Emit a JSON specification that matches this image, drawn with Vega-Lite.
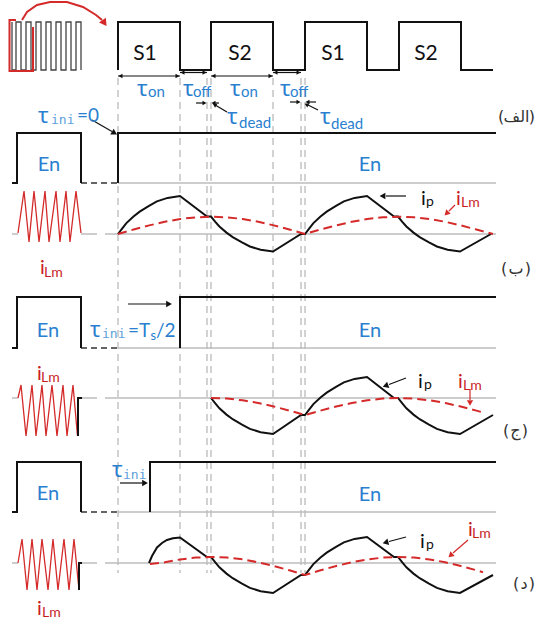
{
"$schema": "https://vega.github.io/schema/vega-lite/v6.json",
"width": 538, "height": 619, "padding": 0, "autosize": {"type": "none"},
"background": "white",
"config": {"view": {"stroke": null}},
"datasets": {
"v": [
{"x":118,"y":78,"y2":573},{"x":180,"y":78,"y2":573},{"x":207,"y":78,"y2":573},{"x":211,"y":78,"y2":573},
{"x":273,"y":78,"y2":573},{"x":301,"y":78,"y2":573},{"x":305,"y":78,"y2":573}
],
"w": [
{"g":"pwm","k":"signal","x":118,"y":70},{"g":"pwm","k":"signal","x":118,"y":22},{"g":"pwm","k":"signal","x":180,"y":22},{"g":"pwm","k":"signal","x":180,"y":70},
{"g":"pwm","k":"signal","x":211,"y":70},{"g":"pwm","k":"signal","x":211,"y":22},{"g":"pwm","k":"signal","x":273,"y":22},{"g":"pwm","k":"signal","x":273,"y":70},
{"g":"pwm","k":"signal","x":305,"y":70},{"g":"pwm","k":"signal","x":305,"y":22},{"g":"pwm","k":"signal","x":367,"y":22},{"g":"pwm","k":"signal","x":367,"y":70},
{"g":"pwm","k":"signal","x":399,"y":70},{"g":"pwm","k":"signal","x":399,"y":22},{"g":"pwm","k":"signal","x":461,"y":22},{"g":"pwm","k":"signal","x":461,"y":70},
{"g":"pwm","k":"signal","x":493,"y":70},

{"g":"ben0","k":"signal","x":12,"y":183},{"g":"ben0","k":"signal","x":17,"y":183},{"g":"ben0","k":"signal","x":17,"y":133},{"g":"ben0","k":"signal","x":81,"y":133},{"g":"ben0","k":"signal","x":81,"y":183},
{"g":"ben1","k":"signal","x":118,"y":183},{"g":"ben1","k":"signal","x":118,"y":133},{"g":"ben1","k":"signal","x":496,"y":133},
{"g":"cen0","k":"signal","x":12,"y":348},{"g":"cen0","k":"signal","x":17,"y":348},{"g":"cen0","k":"signal","x":17,"y":297},{"g":"cen0","k":"signal","x":81,"y":297},{"g":"cen0","k":"signal","x":81,"y":348},
{"g":"cen1","k":"signal","x":180,"y":348},{"g":"cen1","k":"signal","x":180,"y":297},{"g":"cen1","k":"signal","x":496,"y":297},
{"g":"den0","k":"signal","x":12,"y":512},{"g":"den0","k":"signal","x":17,"y":512},{"g":"den0","k":"signal","x":17,"y":462},{"g":"den0","k":"signal","x":81,"y":462},{"g":"den0","k":"signal","x":81,"y":512},
{"g":"den1","k":"signal","x":150,"y":512},{"g":"den1","k":"signal","x":150,"y":462},{"g":"den1","k":"signal","x":496,"y":462},
{"g":"cdrop","k":"signal","x":78,"y":436},{"g":"cdrop","k":"signal","x":78,"y":398},{"g":"cdrop","k":"signal","x":82,"y":398},
{"g":"ddrop","k":"signal","x":79,"y":590},{"g":"ddrop","k":"signal","x":79,"y":563},{"g":"ddrop","k":"signal","x":82,"y":563},

{"g":"bip","k":"signal","x":118,"y":234},{"g":"bip","k":"signal","x":122.3,"y":228.3},{"g":"bip","k":"signal","x":126.4,"y":223.1},{"g":"bip","k":"signal","x":133.5,"y":216.5},{"g":"bip","k":"signal","x":139.7,"y":211.6},{"g":"bip","k":"signal","x":149,"y":205.9},{"g":"bip","k":"signal","x":156.9,"y":201.4},{"g":"bip","k":"signal","x":167.6,"y":197.9},{"g":"bip","k":"signal","x":180,"y":196},
{"g":"bip","k":"signal","x":207,"y":216.5},{"g":"bip","k":"signal","x":211,"y":216.5},
{"g":"bip","k":"signal","x":215.3,"y":221.8},{"g":"bip","k":"signal","x":219.4,"y":226.5},{"g":"bip","k":"signal","x":226.5,"y":232.6},{"g":"bip","k":"signal","x":232.7,"y":237.1},{"g":"bip","k":"signal","x":242,"y":242.4},{"g":"bip","k":"signal","x":249.9,"y":246.5},{"g":"bip","k":"signal","x":260.6,"y":249.8},{"g":"bip","k":"signal","x":273,"y":251.5},
{"g":"bip","k":"signal","x":301,"y":234},{"g":"bip","k":"signal","x":305,"y":234},
{"g":"bip","k":"signal","x":309.3,"y":228.3},{"g":"bip","k":"signal","x":313.4,"y":223.1},{"g":"bip","k":"signal","x":320.5,"y":216.5},{"g":"bip","k":"signal","x":326.7,"y":211.6},{"g":"bip","k":"signal","x":336,"y":205.9},{"g":"bip","k":"signal","x":343.9,"y":201.4},{"g":"bip","k":"signal","x":354.6,"y":197.9},{"g":"bip","k":"signal","x":367,"y":196},
{"g":"bip","k":"signal","x":394,"y":216.5},{"g":"bip","k":"signal","x":398,"y":216.5},
{"g":"bip","k":"signal","x":402.3,"y":221.8},{"g":"bip","k":"signal","x":406.4,"y":226.5},{"g":"bip","k":"signal","x":413.5,"y":232.6},{"g":"bip","k":"signal","x":419.7,"y":237.1},{"g":"bip","k":"signal","x":429,"y":242.4},{"g":"bip","k":"signal","x":436.9,"y":246.5},{"g":"bip","k":"signal","x":447.6,"y":249.8},{"g":"bip","k":"signal","x":460,"y":251.5},
{"g":"bip","k":"signal","x":491,"y":234},

{"g":"cip","k":"signal","x":211,"y":398},{"g":"cip","k":"signal","x":215.3,"y":403.4},{"g":"cip","k":"signal","x":219.4,"y":408.3},{"g":"cip","k":"signal","x":226.5,"y":414.6},{"g":"cip","k":"signal","x":232.7,"y":419.2},{"g":"cip","k":"signal","x":242,"y":424.6},{"g":"cip","k":"signal","x":249.9,"y":428.9},{"g":"cip","k":"signal","x":260.6,"y":432.2},{"g":"cip","k":"signal","x":273,"y":434},
{"g":"cip","k":"signal","x":301,"y":415},{"g":"cip","k":"signal","x":305,"y":415},
{"g":"cip","k":"signal","x":309.3,"y":409.3},{"g":"cip","k":"signal","x":313.4,"y":404.1},{"g":"cip","k":"signal","x":320.5,"y":397.5},{"g":"cip","k":"signal","x":326.7,"y":392.6},{"g":"cip","k":"signal","x":336,"y":386.9},{"g":"cip","k":"signal","x":343.9,"y":382.4},{"g":"cip","k":"signal","x":354.6,"y":378.9},{"g":"cip","k":"signal","x":367,"y":377},
{"g":"cip","k":"signal","x":394,"y":398},{"g":"cip","k":"signal","x":398,"y":398},
{"g":"cip","k":"signal","x":402.3,"y":403.4},{"g":"cip","k":"signal","x":406.4,"y":408.3},{"g":"cip","k":"signal","x":413.5,"y":414.6},{"g":"cip","k":"signal","x":419.7,"y":419.2},{"g":"cip","k":"signal","x":429,"y":424.6},{"g":"cip","k":"signal","x":436.9,"y":428.9},{"g":"cip","k":"signal","x":447.6,"y":432.2},{"g":"cip","k":"signal","x":460,"y":434},
{"g":"cip","k":"signal","x":493,"y":415},

{"g":"dip","k":"signal","x":149,"y":563},{"g":"dip","k":"signal","x":152,"y":556},{"g":"dip","k":"signal","x":157,"y":547.5},{"g":"dip","k":"signal","x":162,"y":543},{"g":"dip","k":"signal","x":167,"y":540},{"g":"dip","k":"signal","x":173,"y":538.3},{"g":"dip","k":"signal","x":180,"y":537.5},
{"g":"dip","k":"signal","x":207,"y":557},{"g":"dip","k":"signal","x":211,"y":557},
{"g":"dip","k":"signal","x":215.3,"y":562.4},{"g":"dip","k":"signal","x":219.4,"y":567.3},{"g":"dip","k":"signal","x":226.5,"y":573.6},{"g":"dip","k":"signal","x":232.7,"y":578.2},{"g":"dip","k":"signal","x":242,"y":583.6},{"g":"dip","k":"signal","x":249.9,"y":587.9},{"g":"dip","k":"signal","x":260.6,"y":591.2},{"g":"dip","k":"signal","x":273,"y":593},
{"g":"dip","k":"signal","x":301,"y":575},{"g":"dip","k":"signal","x":305,"y":575},
{"g":"dip","k":"signal","x":309.3,"y":569.3},{"g":"dip","k":"signal","x":313.4,"y":564.1},{"g":"dip","k":"signal","x":320.5,"y":557.5},{"g":"dip","k":"signal","x":326.7,"y":552.6},{"g":"dip","k":"signal","x":336,"y":546.9},{"g":"dip","k":"signal","x":343.9,"y":542.4},{"g":"dip","k":"signal","x":354.6,"y":538.9},{"g":"dip","k":"signal","x":367,"y":537},
{"g":"dip","k":"signal","x":394,"y":557},{"g":"dip","k":"signal","x":398,"y":557},
{"g":"dip","k":"signal","x":402.3,"y":562.4},{"g":"dip","k":"signal","x":406.4,"y":567.3},{"g":"dip","k":"signal","x":413.5,"y":573.6},{"g":"dip","k":"signal","x":419.7,"y":578.2},{"g":"dip","k":"signal","x":429,"y":583.6},{"g":"dip","k":"signal","x":436.9,"y":587.9},{"g":"dip","k":"signal","x":447.6,"y":591.2},{"g":"dip","k":"signal","x":460,"y":593},
{"g":"dip","k":"signal","x":493,"y":575},

{"g":"thumb","k":"thumb","x":12,"y":22},{"g":"thumb","k":"thumb","x":12,"y":70},{"g":"thumb","k":"thumb","x":16,"y":70},{"g":"thumb","k":"thumb","x":16,"y":22},{"g":"thumb","k":"thumb","x":21,"y":22},{"g":"thumb","k":"thumb","x":21,"y":70},
{"g":"thumb","k":"thumb","x":26,"y":70},{"g":"thumb","k":"thumb","x":26,"y":22},{"g":"thumb","k":"thumb","x":31,"y":22},{"g":"thumb","k":"thumb","x":31,"y":70},{"g":"thumb","k":"thumb","x":36,"y":70},{"g":"thumb","k":"thumb","x":36,"y":22},
{"g":"thumb","k":"thumb","x":41,"y":22},{"g":"thumb","k":"thumb","x":41,"y":70},{"g":"thumb","k":"thumb","x":46,"y":70},{"g":"thumb","k":"thumb","x":46,"y":22},{"g":"thumb","k":"thumb","x":51,"y":22},{"g":"thumb","k":"thumb","x":51,"y":70},
{"g":"thumb","k":"thumb","x":56,"y":70},{"g":"thumb","k":"thumb","x":56,"y":22},{"g":"thumb","k":"thumb","x":61,"y":22},{"g":"thumb","k":"thumb","x":61,"y":70},{"g":"thumb","k":"thumb","x":66,"y":70},{"g":"thumb","k":"thumb","x":66,"y":22},
{"g":"thumb","k":"thumb","x":71,"y":22},{"g":"thumb","k":"thumb","x":71,"y":70},{"g":"thumb","k":"thumb","x":76,"y":70},{"g":"thumb","k":"thumb","x":76,"y":22},{"g":"thumb","k":"thumb","x":81,"y":22},{"g":"thumb","k":"thumb","x":81,"y":70},

{"g":"bt","k":"axis","x":118,"y":183},{"g":"bt","k":"axis","x":496,"y":183},
{"g":"b1","k":"axis","x":12,"y":234},{"g":"b1","k":"axis","x":18,"y":234},
{"g":"b2","k":"axis","x":81,"y":234},{"g":"b2","k":"axis","x":97,"y":234},
{"g":"b3","k":"axis","x":105,"y":234},{"g":"b3","k":"axis","x":496,"y":234},
{"g":"ct","k":"axis","x":118,"y":348},{"g":"ct","k":"axis","x":496,"y":348},
{"g":"c1","k":"axis","x":12,"y":398},{"g":"c1","k":"axis","x":18,"y":398},
{"g":"c2","k":"axis","x":82,"y":398},{"g":"c2","k":"axis","x":97,"y":398},
{"g":"c3","k":"axis","x":105,"y":398},{"g":"c3","k":"axis","x":496,"y":398},
{"g":"dt","k":"axis","x":118,"y":512},{"g":"dt","k":"axis","x":496,"y":512},
{"g":"d1","k":"axis","x":12,"y":563},{"g":"d1","k":"axis","x":18,"y":563},
{"g":"d2","k":"axis","x":82,"y":563},{"g":"d2","k":"axis","x":97,"y":563},
{"g":"d3","k":"axis","x":105,"y":563},{"g":"d3","k":"axis","x":496,"y":563},

{"g":"bi","k":"idle","x":81,"y":183},{"g":"bi","k":"idle","x":118,"y":183},
{"g":"ci","k":"idle","x":81,"y":348},{"g":"ci","k":"idle","x":118,"y":348},
{"g":"di","k":"idle","x":81,"y":512},{"g":"di","k":"idle","x":118,"y":512},

{"g":"bz","k":"ripple","x":18,"y":233},{"g":"bz","k":"ripple","x":24,"y":191},{"g":"bz","k":"ripple","x":29,"y":242},{"g":"bz","k":"ripple","x":34,"y":191},{"g":"bz","k":"ripple","x":39,"y":242},{"g":"bz","k":"ripple","x":45,"y":191},{"g":"bz","k":"ripple","x":49,"y":242},{"g":"bz","k":"ripple","x":56,"y":191},{"g":"bz","k":"ripple","x":60,"y":242},{"g":"bz","k":"ripple","x":66,"y":191},{"g":"bz","k":"ripple","x":70,"y":242},{"g":"bz","k":"ripple","x":76,"y":191},{"g":"bz","k":"ripple","x":81,"y":233},
{"g":"cz","k":"ripple","x":18,"y":398},{"g":"cz","k":"ripple","x":21,"y":385},{"g":"cz","k":"ripple","x":26,"y":436},{"g":"cz","k":"ripple","x":32,"y":385},{"g":"cz","k":"ripple","x":36,"y":436},{"g":"cz","k":"ripple","x":42,"y":385},{"g":"cz","k":"ripple","x":46,"y":436},{"g":"cz","k":"ripple","x":52,"y":385},{"g":"cz","k":"ripple","x":57,"y":436},{"g":"cz","k":"ripple","x":63,"y":385},{"g":"cz","k":"ripple","x":67,"y":436},{"g":"cz","k":"ripple","x":73,"y":385},{"g":"cz","k":"ripple","x":77.5,"y":436},
{"g":"dz","k":"ripple","x":18,"y":563},{"g":"dz","k":"ripple","x":22,"y":539},{"g":"dz","k":"ripple","x":27,"y":590},{"g":"dz","k":"ripple","x":32,"y":539},{"g":"dz","k":"ripple","x":37,"y":590},{"g":"dz","k":"ripple","x":42,"y":539},{"g":"dz","k":"ripple","x":48,"y":590},{"g":"dz","k":"ripple","x":53,"y":539},{"g":"dz","k":"ripple","x":58,"y":590},{"g":"dz","k":"ripple","x":64,"y":539},{"g":"dz","k":"ripple","x":69,"y":590},{"g":"dz","k":"ripple","x":74,"y":539},{"g":"dz","k":"ripple","x":79,"y":590},

{"g":"bl","k":"ilm","x":118,"y":234},{"g":"bl","k":"ilm","x":133.6,"y":229.5},{"g":"bl","k":"ilm","x":149.2,"y":225.4},{"g":"bl","k":"ilm","x":164.8,"y":221.8},{"g":"bl","k":"ilm","x":180.3,"y":219},{"g":"bl","k":"ilm","x":195.9,"y":217.3},{"g":"bl","k":"ilm","x":211.5,"y":216.7},
{"g":"bl","k":"ilm","x":227.1,"y":217.3},{"g":"bl","k":"ilm","x":242.7,"y":219},{"g":"bl","k":"ilm","x":258.3,"y":221.8},{"g":"bl","k":"ilm","x":273.8,"y":225.4},{"g":"bl","k":"ilm","x":289.4,"y":229.5},{"g":"bl","k":"ilm","x":305,"y":234},
{"g":"bl","k":"ilm","x":320.6,"y":229.5},{"g":"bl","k":"ilm","x":336.2,"y":225.4},{"g":"bl","k":"ilm","x":351.8,"y":221.8},{"g":"bl","k":"ilm","x":367.3,"y":219},{"g":"bl","k":"ilm","x":382.9,"y":217.3},{"g":"bl","k":"ilm","x":398.5,"y":216.7},
{"g":"bl","k":"ilm","x":414.1,"y":217.3},{"g":"bl","k":"ilm","x":429.7,"y":219},{"g":"bl","k":"ilm","x":445.3,"y":221.8},{"g":"bl","k":"ilm","x":460.8,"y":225.4},{"g":"bl","k":"ilm","x":476.4,"y":229.5},{"g":"bl","k":"ilm","x":493,"y":234},

{"g":"cl","k":"ilm","x":211,"y":398},{"g":"cl","k":"ilm","x":227.1,"y":398.6},{"g":"cl","k":"ilm","x":242.7,"y":400.3},{"g":"cl","k":"ilm","x":258.3,"y":403},{"g":"cl","k":"ilm","x":273.8,"y":406.5},{"g":"cl","k":"ilm","x":289.4,"y":410.6},{"g":"cl","k":"ilm","x":305,"y":415},
{"g":"cl","k":"ilm","x":320.6,"y":410.6},{"g":"cl","k":"ilm","x":336.2,"y":406.5},{"g":"cl","k":"ilm","x":351.8,"y":403},{"g":"cl","k":"ilm","x":367.3,"y":400.3},{"g":"cl","k":"ilm","x":382.9,"y":398.6},{"g":"cl","k":"ilm","x":398.5,"y":398},
{"g":"cl","k":"ilm","x":414.1,"y":398.6},{"g":"cl","k":"ilm","x":429.7,"y":400.3},{"g":"cl","k":"ilm","x":445.3,"y":403},{"g":"cl","k":"ilm","x":460.8,"y":406.5},{"g":"cl","k":"ilm","x":476.4,"y":410.6},{"g":"cl","k":"ilm","x":483,"y":412.5},

{"g":"dl","k":"ilm","x":150,"y":564},{"g":"dl","k":"ilm","x":164.8,"y":562.3},{"g":"dl","k":"ilm","x":180.3,"y":559.4},{"g":"dl","k":"ilm","x":195.9,"y":557.6},{"g":"dl","k":"ilm","x":211.5,"y":557},
{"g":"dl","k":"ilm","x":227.1,"y":557.6},{"g":"dl","k":"ilm","x":242.7,"y":559.4},{"g":"dl","k":"ilm","x":258.3,"y":562.3},{"g":"dl","k":"ilm","x":273.8,"y":566},{"g":"dl","k":"ilm","x":289.4,"y":570.3},{"g":"dl","k":"ilm","x":305,"y":575},
{"g":"dl","k":"ilm","x":320.6,"y":570.3},{"g":"dl","k":"ilm","x":336.2,"y":566},{"g":"dl","k":"ilm","x":351.8,"y":562.3},{"g":"dl","k":"ilm","x":367.3,"y":559.4},{"g":"dl","k":"ilm","x":382.9,"y":557.6},{"g":"dl","k":"ilm","x":398.5,"y":557},
{"g":"dl","k":"ilm","x":414.1,"y":557.6},{"g":"dl","k":"ilm","x":429.7,"y":559.4},{"g":"dl","k":"ilm","x":445.3,"y":562.3},{"g":"dl","k":"ilm","x":460.8,"y":566},{"g":"dl","k":"ilm","x":476.4,"y":570.3},{"g":"dl","k":"ilm","x":483,"y":572.3},

{"g":"n1","k":"note","x":118,"y":76},{"g":"n1","k":"note","x":180,"y":76},
{"g":"n2","k":"note","x":180,"y":72.5},{"g":"n2","k":"note","x":207,"y":72.5},
{"g":"n3","k":"note","x":211,"y":76},{"g":"n3","k":"note","x":273,"y":76},
{"g":"n4","k":"note","x":273,"y":72.5},{"g":"n4","k":"note","x":301,"y":72.5},
{"g":"n5","k":"note","x":196,"y":103},{"g":"n5","k":"note","x":204,"y":103},
{"g":"n6","k":"note","x":219,"y":103},{"g":"n6","k":"note","x":214,"y":103},
{"g":"n7","k":"note","x":290,"y":102},{"g":"n7","k":"note","x":298,"y":102},
{"g":"n8","k":"note","x":316,"y":102},{"g":"n8","k":"note","x":308,"y":102},
{"g":"n9","k":"note","x":227,"y":112},{"g":"n9","k":"note","x":216,"y":105.5},
{"g":"n10","k":"note","x":318,"y":110},{"g":"n10","k":"note","x":308,"y":105},
{"g":"n11","k":"note","x":92,"y":120},{"g":"n11","k":"note","x":112,"y":131.5},
{"g":"n12","k":"note","x":128,"y":304},{"g":"n12","k":"note","x":166,"y":304},
{"g":"n13","k":"note","x":120,"y":483},{"g":"n13","k":"note","x":142,"y":483},
{"g":"n14","k":"note","x":406,"y":196},{"g":"n14","k":"note","x":386,"y":196},
{"g":"n15","k":"note","x":406,"y":378},{"g":"n15","k":"note","x":389,"y":384.5},
{"g":"n16","k":"note","x":406,"y":537},{"g":"n16","k":"note","x":389,"y":541.5},

{"g":"r1","k":"rnote","x":455,"y":205},{"g":"r1","k":"rnote","x":449,"y":211},
{"g":"r2","k":"rnote","x":470,"y":389},{"g":"r2","k":"rnote","x":470,"y":400},
{"g":"r3","k":"rnote","x":468,"y":540},{"g":"r3","k":"rnote","x":453,"y":553},

{"g":"lk","k":"link","x":22,"y":20},{"g":"lk","k":"link","x":27,"y":12},{"g":"lk","k":"link","x":37,"y":5},{"g":"lk","k":"link","x":50,"y":2},{"g":"lk","k":"link","x":67,"y":2},{"g":"lk","k":"link","x":83,"y":7},{"g":"lk","k":"link","x":96,"y":15},{"g":"lk","k":"link","x":102,"y":20},
{"g":"rr","k":"link","x":16,"y":20},{"g":"rr","k":"link","x":9.5,"y":20},{"g":"rr","k":"link","x":9.5,"y":71},{"g":"rr","k":"link","x":33,"y":71},{"g":"rr","k":"link","x":33,"y":27}
],
"h": [
{"k":"s","x":120.5,"y":76,"a":180},{"k":"s","x":177.5,"y":76,"a":0},{"k":"s","x":182.5,"y":72.5,"a":180},{"k":"s","x":204.5,"y":72.5,"a":0},
{"k":"s","x":213.5,"y":76,"a":180},{"k":"s","x":270.5,"y":76,"a":0},{"k":"s","x":275.5,"y":72.5,"a":180},{"k":"s","x":298.5,"y":72.5,"a":0},
{"k":"s","x":204.5,"y":103,"a":0},{"k":"s","x":213.5,"y":103,"a":180},{"k":"s","x":298.5,"y":102,"a":0},{"k":"s","x":307.5,"y":102,"a":180},
{"k":"s","x":214.5,"y":104.7,"a":210},{"k":"s","x":306.5,"y":104.5,"a":205},
{"k":"b","x":114.5,"y":133,"a":30},{"k":"b","x":169,"y":304,"a":0},{"k":"b","x":145,"y":483,"a":0},
{"k":"b","x":382.5,"y":196,"a":180},{"k":"b","x":385.5,"y":385.8,"a":160},{"k":"b","x":385.5,"y":542.5,"a":165},
{"k":"r","x":446.5,"y":213.5,"a":135},{"k":"r","x":470,"y":403,"a":90},{"k":"r","x":450.5,"y":555.5,"a":138},
{"k":"l","x":104.5,"y":23,"a":55}
],
"t": [
{"k":"S","t":"S1","x":145,"y":60},{"k":"S","t":"S2","x":240,"y":60},{"k":"S","t":"S1","x":333,"y":60},{"k":"S","t":"S2","x":426,"y":60},
{"k":"En","t":"En","x":49,"y":171},{"k":"En","t":"En","x":370,"y":171},{"k":"En","t":"En","x":48,"y":337},{"k":"En","t":"En","x":370,"y":337},{"k":"En","t":"En","x":48,"y":500},{"k":"En","t":"En","x":370,"y":501},
{"k":"tau","t":"τ","x":137,"y":96},{"k":"tau","t":"τ","x":183,"y":96},{"k":"tau","t":"τ","x":230,"y":96},{"k":"tau","t":"τ","x":280,"y":96},
{"k":"tau","t":"τ","x":227,"y":124},{"k":"tau","t":"τ","x":320,"y":124},{"k":"tau","t":"τ","x":38,"y":123},{"k":"tau","t":"τ","x":90,"y":337},{"k":"tau","t":"τ","x":112,"y":477},
{"k":"sub","t":"on","x":148,"y":97},{"k":"sub","t":"off","x":193,"y":97},{"k":"sub","t":"on","x":241,"y":97},{"k":"sub","t":"off","x":290,"y":97},
{"k":"sub","t":"dead","x":239,"y":128},{"k":"sub","t":"dead","x":331,"y":129},
{"k":"ini","t":"ini","x":51,"y":124},{"k":"ini","t":"ini","x":102,"y":338},{"k":"ini","t":"ini","x":123,"y":479},
{"k":"blue","t":"=0","x":77,"y":122},{"k":"blue","t":"=T","x":128,"y":337},{"k":"blue","t":"/2","x":156,"y":337},
{"k":"bsub","t":"s","x":150.5,"y":340},
{"k":"i","t":"i","x":421,"y":205},{"k":"i","t":"i","x":418,"y":388},{"k":"i","t":"i","x":420,"y":548},
{"k":"p","t":"p","x":426,"y":206},{"k":"p","t":"p","x":424,"y":389},{"k":"p","t":"p","x":426,"y":549},
{"k":"ri","t":"i","x":456,"y":205},{"k":"ri","t":"i","x":40,"y":274},{"k":"ri","t":"i","x":458,"y":388},{"k":"ri","t":"i","x":37,"y":380},{"k":"ri","t":"i","x":468,"y":536},{"k":"ri","t":"i","x":37,"y":615},
{"k":"rsub","t":"Lm","x":461,"y":207},{"k":"rsub","t":"Lm","x":44,"y":277},{"k":"rsub","t":"Lm","x":463,"y":390},{"k":"rsub","t":"Lm","x":41,"y":382},{"k":"rsub","t":"Lm","x":472,"y":538},{"k":"rsub","t":"Lm","x":42,"y":617},
{"k":"arL","t":"(","x":498,"y":122},{"k":"arC","t":"الف","x":516.5,"y":122},{"k":"arR","t":")","x":535,"y":122},
{"k":"arL","t":"(","x":501,"y":274},{"k":"arC","t":"ب","x":516,"y":274},{"k":"arR","t":")","x":531,"y":274},
{"k":"arL","t":"(","x":503,"y":436},{"k":"arC","t":"ج","x":515.5,"y":436},{"k":"arR","t":")","x":528,"y":436},
{"k":"arL","t":"(","x":513,"y":589},{"k":"arC","t":"د","x":524,"y":589},{"k":"arR","t":")","x":535,"y":589}
]
},
"encoding": {
"x": {"field": "x", "type": "quantitative", "scale": {"domain": [0, 538], "nice": false, "zero": false}, "axis": null},
"y": {"field": "y", "type": "quantitative", "scale": {"domain": [0, 619], "reverse": true, "nice": false, "zero": false}, "axis": null}
},
"layer": [
{"data": {"name": "v"}, "mark": {"type": "rule", "stroke": "#c4c4c4", "strokeWidth": 1.5, "strokeDash": [7, 5]}, "encoding": {"y2": {"field": "y2"}}},
{"data": {"name": "w"}, "transform": [{"filter": "datum.k==='axis'"}], "mark": {"type": "line", "stroke": "#bdbdbd", "strokeWidth": 1.5}, "encoding": {"detail": {"field": "g"}, "order": {"value": null}}},
{"data": {"name": "w"}, "transform": [{"filter": "datum.k==='idle'"}], "mark": {"type": "line", "stroke": "#333333", "strokeWidth": 1.5, "strokeDash": [6, 4]}, "encoding": {"detail": {"field": "g"}, "order": {"value": null}}},
{"data": {"name": "w"}, "transform": [{"filter": "datum.k==='ripple'"}], "mark": {"type": "line", "stroke": "#d42a2a", "strokeWidth": 1.3}, "encoding": {"detail": {"field": "g"}, "order": {"value": null}}},
{"data": {"name": "w"}, "transform": [{"filter": "datum.k==='thumb'"}], "mark": {"type": "line", "stroke": "#444444", "strokeWidth": 1.3}, "encoding": {"detail": {"field": "g"}, "order": {"value": null}}},
{"data": {"name": "w"}, "transform": [{"filter": "datum.k==='link'"}], "mark": {"type": "line", "stroke": "#d42a2a", "strokeWidth": 2}, "encoding": {"detail": {"field": "g"}, "order": {"value": null}}},
{"data": {"name": "w"}, "transform": [{"filter": "datum.k==='signal'"}], "mark": {"type": "line", "stroke": "#111111", "strokeWidth": 2}, "encoding": {"detail": {"field": "g"}, "order": {"value": null}}},
{"data": {"name": "w"}, "transform": [{"filter": "datum.k==='ilm'"}], "mark": {"type": "line", "stroke": "#d42a2a", "strokeWidth": 2, "strokeDash": [9, 5]}, "encoding": {"detail": {"field": "g"}, "order": {"value": null}}},
{"data": {"name": "w"}, "transform": [{"filter": "datum.k==='note'"}], "mark": {"type": "line", "stroke": "#111111", "strokeWidth": 1.2}, "encoding": {"detail": {"field": "g"}, "order": {"value": null}}},
{"data": {"name": "w"}, "transform": [{"filter": "datum.k==='rnote'"}], "mark": {"type": "line", "stroke": "#d42a2a", "strokeWidth": 1.2}, "encoding": {"detail": {"field": "g"}, "order": {"value": null}}},
{"data": {"name": "h"}, "transform": [{"filter": "datum.k==='s'"}], "mark": {"type": "point", "shape": "triangle-right", "filled": true, "color": "#111111", "opacity": 1, "size": 22, "strokeWidth": 0}, "encoding": {"angle": {"field": "a", "type": "quantitative", "scale": null}}},
{"data": {"name": "h"}, "transform": [{"filter": "datum.k==='b'"}], "mark": {"type": "point", "shape": "triangle-right", "filled": true, "color": "#111111", "opacity": 1, "size": 45, "strokeWidth": 0}, "encoding": {"angle": {"field": "a", "type": "quantitative", "scale": null}}},
{"data": {"name": "h"}, "transform": [{"filter": "datum.k==='r'"}], "mark": {"type": "point", "shape": "triangle-right", "filled": true, "color": "#d42a2a", "opacity": 1, "size": 40, "strokeWidth": 0}, "encoding": {"angle": {"field": "a", "type": "quantitative", "scale": null}}},
{"data": {"name": "h"}, "transform": [{"filter": "datum.k==='l'"}], "mark": {"type": "point", "shape": "triangle-right", "filled": true, "color": "#d42a2a", "opacity": 1, "size": 70, "strokeWidth": 0}, "encoding": {"angle": {"field": "a", "type": "quantitative", "scale": null}}},
{"data": {"name": "t"}, "transform": [{"filter": "datum.k==='S'"}], "mark": {"type": "text", "font": "Lato", "fontSize": 21, "align": "center", "baseline": "alphabetic", "color": "#111111"}, "encoding": {"text": {"field": "t"}}},
{"data": {"name": "t"}, "transform": [{"filter": "datum.k==='En'"}], "mark": {"type": "text", "font": "Lato", "fontSize": 20, "align": "center", "baseline": "alphabetic", "color": "#2a7fd0"}, "encoding": {"text": {"field": "t"}}},
{"data": {"name": "t"}, "transform": [{"filter": "datum.k==='tau'"}], "mark": {"type": "text", "font": "Noto Sans", "fontSize": 22, "align": "left", "baseline": "alphabetic", "color": "#2a7fd0"}, "encoding": {"text": {"field": "t"}}},
{"data": {"name": "t"}, "transform": [{"filter": "datum.k==='sub'"}], "mark": {"type": "text", "font": "Lato", "fontSize": 15, "align": "left", "baseline": "alphabetic", "color": "#2a7fd0"}, "encoding": {"text": {"field": "t"}}},
{"data": {"name": "t"}, "transform": [{"filter": "datum.k==='ini'"}], "mark": {"type": "text", "font": "DejaVu Sans Mono", "fontSize": 13, "align": "left", "baseline": "alphabetic", "color": "#5d9fdc"}, "encoding": {"text": {"field": "t"}}},
{"data": {"name": "t"}, "transform": [{"filter": "datum.k==='blue'"}], "mark": {"type": "text", "font": "Lato", "fontSize": 19, "align": "left", "baseline": "alphabetic", "color": "#2a7fd0"}, "encoding": {"text": {"field": "t"}}},
{"data": {"name": "t"}, "transform": [{"filter": "datum.k==='bsub'"}], "mark": {"type": "text", "font": "Lato", "fontSize": 13, "align": "left", "baseline": "alphabetic", "color": "#2a7fd0"}, "encoding": {"text": {"field": "t"}}},
{"data": {"name": "t"}, "transform": [{"filter": "datum.k==='i'"}], "mark": {"type": "text", "font": "Lato", "fontSize": 20, "align": "left", "baseline": "alphabetic", "color": "#111111"}, "encoding": {"text": {"field": "t"}}},
{"data": {"name": "t"}, "transform": [{"filter": "datum.k==='p'"}], "mark": {"type": "text", "font": "Lato", "fontSize": 14, "align": "left", "baseline": "alphabetic", "color": "#111111"}, "encoding": {"text": {"field": "t"}}},
{"data": {"name": "t"}, "transform": [{"filter": "datum.k==='ri'"}], "mark": {"type": "text", "font": "Lato", "fontSize": 20, "align": "left", "baseline": "alphabetic", "color": "#c81e1e"}, "encoding": {"text": {"field": "t"}}},
{"data": {"name": "t"}, "transform": [{"filter": "datum.k==='rsub'"}], "mark": {"type": "text", "font": "Lato", "fontSize": 14, "align": "left", "baseline": "alphabetic", "color": "#c81e1e"}, "encoding": {"text": {"field": "t"}}},
{"data": {"name": "t"}, "transform": [{"filter": "datum.k==='arL'"}], "mark": {"type": "text", "font": "DejaVu Sans", "fontSize": 16, "align": "left", "baseline": "alphabetic", "color": "#333333"}, "encoding": {"text": {"field": "t"}}},
{"data": {"name": "t"}, "transform": [{"filter": "datum.k==='arC'"}], "mark": {"type": "text", "font": "DejaVu Sans", "fontSize": 16, "align": "center", "baseline": "alphabetic", "color": "#333333"}, "encoding": {"text": {"field": "t"}}},
{"data": {"name": "t"}, "transform": [{"filter": "datum.k==='arR'"}], "mark": {"type": "text", "font": "DejaVu Sans", "fontSize": 16, "align": "right", "baseline": "alphabetic", "color": "#333333"}, "encoding": {"text": {"field": "t"}}}
]
}
